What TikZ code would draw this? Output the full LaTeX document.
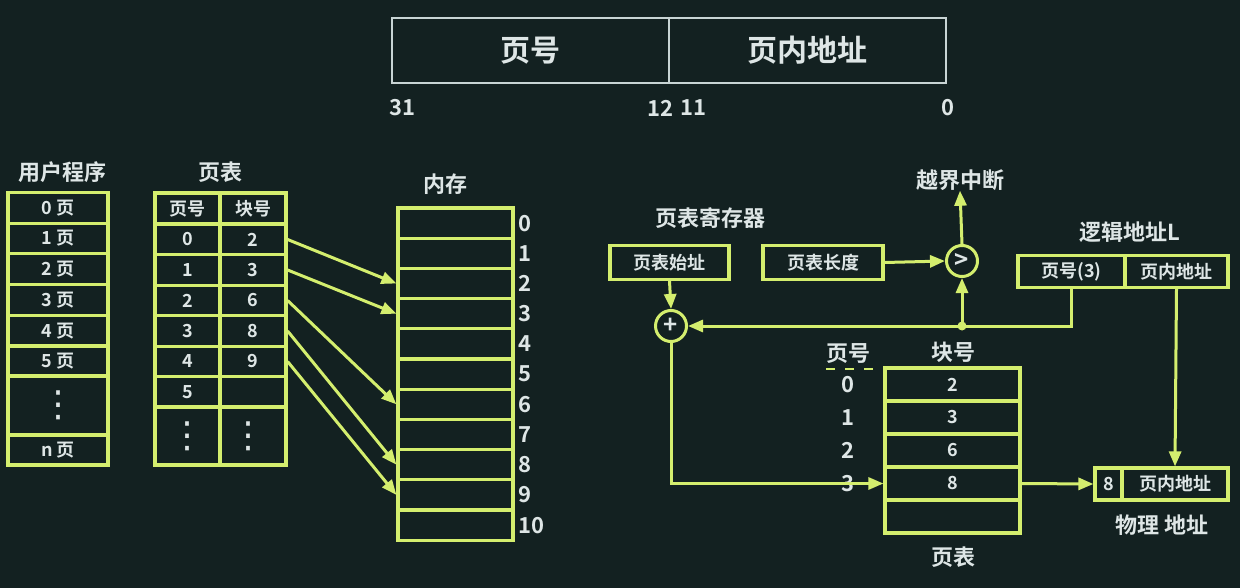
\documentclass[tikz,border=0pt]{standalone}
\usepackage{fontspec}
\setmainfont{Noto Sans CJK SC}[BoldFont={Noto Sans CJK SC Bold}]
\newfontfamily\dejavu{DejaVu Sans}
\usetikzlibrary{arrows.meta,calc}
\definecolor{bg}{RGB}{19,33,33}
\definecolor{lc}{RGB}{212,238,110}
\definecolor{tc}{RGB}{222,230,230}
\definecolor{wc}{RGB}{200,212,212}
\tikzset{
  cell/.style={draw=lc, line width=3.2pt, inner sep=0pt, text=tc, font=\fontsize{18}{18}\selectfont\bfseries},
  wcell/.style={draw=wc, line width=2.8pt, inner sep=0pt, text=tc, font=\fontsize{30}{30}\selectfont\bfseries},
  lbl/.style={text=tc, inner sep=0pt, font=\fontsize{22}{22}\selectfont\bfseries},
  num/.style={text=tc, inner sep=0pt, font=\fontsize{22}{22}\selectfont\bfseries},
  dotsv/.style={text=tc, inner sep=0pt, font=\fontsize{36}{36}\selectfont\dejavu},
  arr/.style={draw=lc, line width=3pt, -{Triangle[length=15pt,width=12pt]}},
  ring/.style={circle, draw=lc, line width=3pt, minimum size=31pt, inner sep=0pt, text=tc, font=\fontsize{24}{24}\selectfont\bfseries}
}
\begin{document}
\begin{tikzpicture}[x=1pt,y=-1pt]
\fill[bg] (0,0) rectangle (1240,588);
\useasboundingbox (0,0) rectangle (1240,588);

% top address format
\node[wcell, minimum width=277pt, minimum height=65pt] (tpn) at (530.5,50.5) {页号};
\node[wcell, minimum width=277pt, minimum height=65pt] (toff) at (807.5,50.5) {页内地址};
\node[num, anchor=west] (b31) at (389,108) {31};
\node[num, anchor=east] (b12) at (674,108) {12};
\node[num, anchor=west] (b11) at (680,108) {11};
\node[num, anchor=east] (b0) at (955,108) {0};

% user program
\node[lbl] (ulbl) at (62,172) {用户程序};
\foreach \i/\y in {0/208,1/238.5,2/269,3/300,4/331,5/361}{
  \node[cell, minimum width=100pt, minimum height=30.5pt] (u\i) at (58,\y) {\i\ 页};
}
\node[cell, minimum width=100pt, minimum height=59pt] (udots) at (58,405.5) {};
\node[dotsv] (udt) at (58,405.5) {⋮};
\node[cell, minimum width=100pt, minimum height=30pt] (un) at (58,450) {n 页};

% page table (left)
\node[lbl] (ptlbl) at (220,172) {页表};
\node[cell, minimum width=65pt, minimum height=31pt] (hp) at (187.5,208.5) {页号};
\node[cell, minimum width=66pt, minimum height=31pt] (hb) at (253,208.5) {块号};
\foreach \i/\y/\b in {0/239.5/2,1/270/3,2/300.5/6,3/331/8,4/361.5/9}{
  \node[cell, minimum width=65pt, minimum height=30.5pt] (p\i) at (187.5,\y) {\i};
  \node[cell, minimum width=66pt, minimum height=30.5pt] (b\i) at (253,\y) {\b};
}
\node[cell, minimum width=65pt, minimum height=30.5pt] (p5) at (187.5,392) {5};
\node[cell, minimum width=66pt, minimum height=30.5pt] (b5) at (253,392) {};
\node[cell, minimum width=65pt, minimum height=58pt] (pdots) at (187.5,436) {};
\node[cell, minimum width=66pt, minimum height=58pt] (bdots) at (253,436) {};
\node[dotsv] (pdt) at (187.5,436) {⋮};
\node[dotsv] (bdt) at (248,436) {⋮};

% memory
\node[lbl] (memlbl) at (445,184) {内存};
\foreach \i in {0,...,10}{
  \node[cell, minimum width=115pt, minimum height=30.2pt] (m\i) at (455.5,{223.1+30.2*\i}) {};
  \node[num, anchor=west] (mn\i) at (518,{223.1+30.2*\i}) {\i};
}

% mapping arrows
\draw[arr] (b0.east) -- (m2.west);
\draw[arr] (b1.east) -- (m3.west);
\draw[arr] (b2.east) -- (m6.west);
\draw[arr] (b3.east) -- (m8.west);
\draw[arr] (b4.east) -- (m9.west);

% right side: registers
\node[lbl] (reglbl) at (710,218) {页表寄存器};
\node[cell, minimum width=119pt, minimum height=34pt] (start) at (669.5,262.5) {页表始址};
\node[cell, minimum width=120pt, minimum height=34pt] (len) at (823,262.5) {页表长度};
\node[ring] (cmp) at (962,261) {>};
\node[lbl] (over) at (960,180) {越界中断};
\node[ring] (plus) at (671,326) {+};

% logical address
\node[lbl] (lalbl) at (1130,232) {逻辑地址L};
\node[cell, minimum width=107pt, minimum height=32pt] (lpn) at (1071.5,271.5) {页号(3)};
\node[cell, minimum width=103pt, minimum height=32pt] (loff) at (1176.5,271.5) {页内地址};

% right page table
\node[lbl] (rpn) at (848,354) {页号};
\node[lbl] (rbn) at (953,352) {块号};
\draw[lc, line width=2.4pt, dash pattern=on 9pt off 10pt] (826,369) -- (884,369);
\foreach \i/\b in {0/2,1/3,2/6,3/8}{
  \node[cell, minimum width=135pt, minimum height=33pt] (r\i) at (952.5,{384.5+33*\i}) {\b};
  \node[num] (rl\i) at (848,{384.5+33*\i}) {\i};
}
\node[cell, minimum width=135pt, minimum height=33pt] (r4) at (952.5,516.5) {};
\node[lbl] (rptlbl) at (953,557) {页表};

% physical address
\node[cell, minimum width=27pt, minimum height=32pt] (pblk) at (1108.5,484) {8};
\node[cell, minimum width=106pt, minimum height=32pt] (poff) at (1175,484) {页内地址};
\node[lbl] (palbl) at (1162,525) {物理 地址};

% connectors
\coordinate (j) at (cmp.center |- plus.east);
\draw[arr] (start.south) -- (plus.north);
\draw[arr] (len.east) -- (cmp.west);
\draw[arr] (cmp.north) -- (over.south);
\draw[arr] (lpn.south) |- (plus.east);
\draw[arr] (j) -- (cmp.south);
\fill[lc] (j) circle (4.5pt);
\draw[arr] (plus.south) |- (r3.west);
\draw[arr] (r3.east) -- (pblk.west);
\draw[arr] (loff.south) -- (poff.north);
\end{tikzpicture}
\end{document}
